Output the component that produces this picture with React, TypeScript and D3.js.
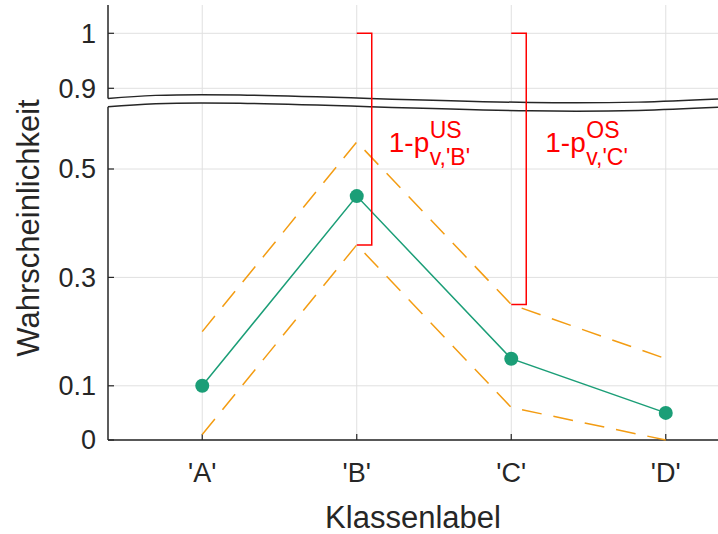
import React from "react";
import * as d3 from "d3";

// class labels and estimated probabilities
const categories = ["'A'", "'B'", "'C'", "'D'"];
const probs = [0.1, 0.45, 0.15, 0.05];
const upperBound = [0.2, 0.55, 0.25, 0.15];
const lowerBound = [0.01, 0.36, 0.06, 0.0];
const lowerTicks = [0, 0.1, 0.3, 0.5];
const upperTicks = [0.9, 1];

const W = 718;
const H = 534;
const font = "'Liberation Sans', Arial, Helvetica, sans-serif";
const ink = "#262626";
const grid = "#e0e0e0";
const green = "#1b9e77";
const orange = "#f39c12";
const red = "#ff0000";

const left = 108;
const right = 718;
const bottom = 440;
const top = 5;

// broken axis: two linear pieces
const yLow = d3.scaleLinear().domain([0, 0.5]).range([bottom, 169]);
const yHigh = d3.scaleLinear().domain([0.9, 1]).range([88.3, 33.3]);

const x = d3.scalePoint<string>().domain(categories).range([left, 760]).padding(0.61);

// shape of the break (x position, y position) for the upper wave
const breakWave: [number, number][] = [
  [left, 98.5],
  [240, 95],
  [530, 102.5],
  [right, 99],
];
const breakGap = 8.3;

export default function App() {
  const wave = d3
    .line<[number, number]>()
    .x((d) => d[0])
    .y((d) => d[1])
    .curve(d3.curveNatural);
  const upperWave = wave(breakWave) || "";
  const lowerWave = wave(breakWave.map(([a, b]) => [a, b + breakGap] as [number, number])) || "";
  const maskArea =
    d3
      .area<[number, number]>()
      .x((d) => d[0])
      .y0((d) => d[1])
      .y1((d) => d[1] + breakGap)
      .curve(d3.curveNatural)(breakWave) || "";

  const pts = categories.map((c, i) => ({ c, v: probs[i], lo: lowerBound[i], hi: upperBound[i] }));
  const line = d3
    .line<{ c: string; v: number }>()
    .x((d) => x(d.c) as number)
    .y((d) => yLow(d.v));
  const hiLine = d3
    .line<{ c: string; hi: number }>()
    .x((d) => x(d.c) as number)
    .y((d) => yLow(d.hi));
  const loLine = d3
    .line<{ c: string; lo: number }>()
    .x((d) => x(d.c) as number)
    .y((d) => yLow(d.lo));

  const bx = x(categories[1]) as number;
  const cx = x(categories[2]) as number;
  const bracketW = 15;
  const bracketB = `M${bx},${yHigh(1)}H${bx + bracketW}V${yLow(lowerBound[1])}H${bx}`;
  const bracketC = `M${cx},${yHigh(1)}H${cx + bracketW}V${yLow(upperBound[2])}H${cx}`;

  return (
    <svg
      width={W}
      height={H}
      style={{ position: "absolute", left: 0, top: 0, background: "#fff" }}
      fontFamily={font}
    >
      {/* grid */}
      {categories.map((c) => (
        <line key={c} x1={x(c)} x2={x(c)} y1={top} y2={bottom} stroke={grid} strokeWidth={1} />
      ))}
      {lowerTicks.map((t) => (
        <line key={"l" + t} x1={left} x2={right} y1={yLow(t)} y2={yLow(t)} stroke={grid} strokeWidth={1} />
      ))}
      {upperTicks.map((t) => (
        <line key={"u" + t} x1={left} x2={right} y1={yHigh(t)} y2={yHigh(t)} stroke={grid} strokeWidth={1} />
      ))}

      {/* axes */}
      <line x1={left} x2={left} y1={top} y2={bottom} stroke={ink} strokeWidth={1.5} />
      <line x1={left} x2={right} y1={bottom} y2={bottom} stroke={ink} strokeWidth={1.5} />
      {lowerTicks.map((t) => (
        <g key={"lt" + t}>
          <line x1={left} x2={left + 6} y1={yLow(t)} y2={yLow(t)} stroke={ink} strokeWidth={1.2} />
          <text x={96} y={yLow(t)} dy="0.35em" textAnchor="end" fontSize={27} fill={ink}>
            {t}
          </text>
        </g>
      ))}
      {upperTicks.map((t) => (
        <g key={"ut" + t}>
          <line x1={left} x2={left + 6} y1={yHigh(t)} y2={yHigh(t)} stroke={ink} strokeWidth={1.2} />
          <text x={96} y={yHigh(t)} dy="0.35em" textAnchor="end" fontSize={27} fill={ink}>
            {t}
          </text>
        </g>
      ))}
      {categories.map((c) => (
        <g key={"xt" + c}>
          <line x1={x(c)} x2={x(c)} y1={bottom} y2={bottom - 6} stroke={ink} strokeWidth={1.2} />
          <text x={x(c)} y={482} textAnchor="middle" fontSize={27} fill={ink}>
            {c}
          </text>
        </g>
      ))}

      {/* axis break */}
      <path d={maskArea} fill="#fff" stroke="none" />
      <rect x={left - 2} y={breakWave[0][1]} width={4} height={breakGap} fill="#fff" />
      <path d={upperWave} fill="none" stroke={ink} strokeWidth={1.5} />
      <path d={lowerWave} fill="none" stroke={ink} strokeWidth={1.5} />

      {/* bounds and estimate */}
      <path d={hiLine(pts) || ""} fill="none" stroke={orange} strokeWidth={1.5} strokeDasharray="20,12" />
      <path d={loLine(pts) || ""} fill="none" stroke={orange} strokeWidth={1.5} strokeDasharray="20,12" />
      <path d={line(pts) || ""} fill="none" stroke={green} strokeWidth={1.5} />
      {pts.map((d) => (
        <circle key={"p" + d.c} cx={x(d.c)} cy={yLow(d.v)} r={7} fill={green} />
      ))}

      {/* brackets */}
      <path d={bracketB} fill="none" stroke={red} strokeWidth={1.5} />
      <path d={bracketC} fill="none" stroke={red} strokeWidth={1.5} />
      <g fill={red}>
        <text x={bx + 32} y={152} fontSize={28}>1-p</text>
        <text x={bx + 73} y={138} fontSize={23}>US</text>
        <text x={bx + 73} y={165} fontSize={23}>v,'B'</text>
        <text x={cx + 34} y={152} fontSize={28}>1-p</text>
        <text x={cx + 75} y={138} fontSize={23}>OS</text>
        <text x={cx + 75} y={165} fontSize={23}>v,'C'</text>
      </g>

      {/* axis labels */}
      <text x={413} y={528} textAnchor="middle" fontSize={31} fill={ink}>
        Klassenlabel
      </text>
      <text transform={`translate(38.5,228) rotate(-90)`} textAnchor="middle" fontSize={31} fill={ink}>
        Wahrscheinlichkeit
      </text>
    </svg>
  );
}
